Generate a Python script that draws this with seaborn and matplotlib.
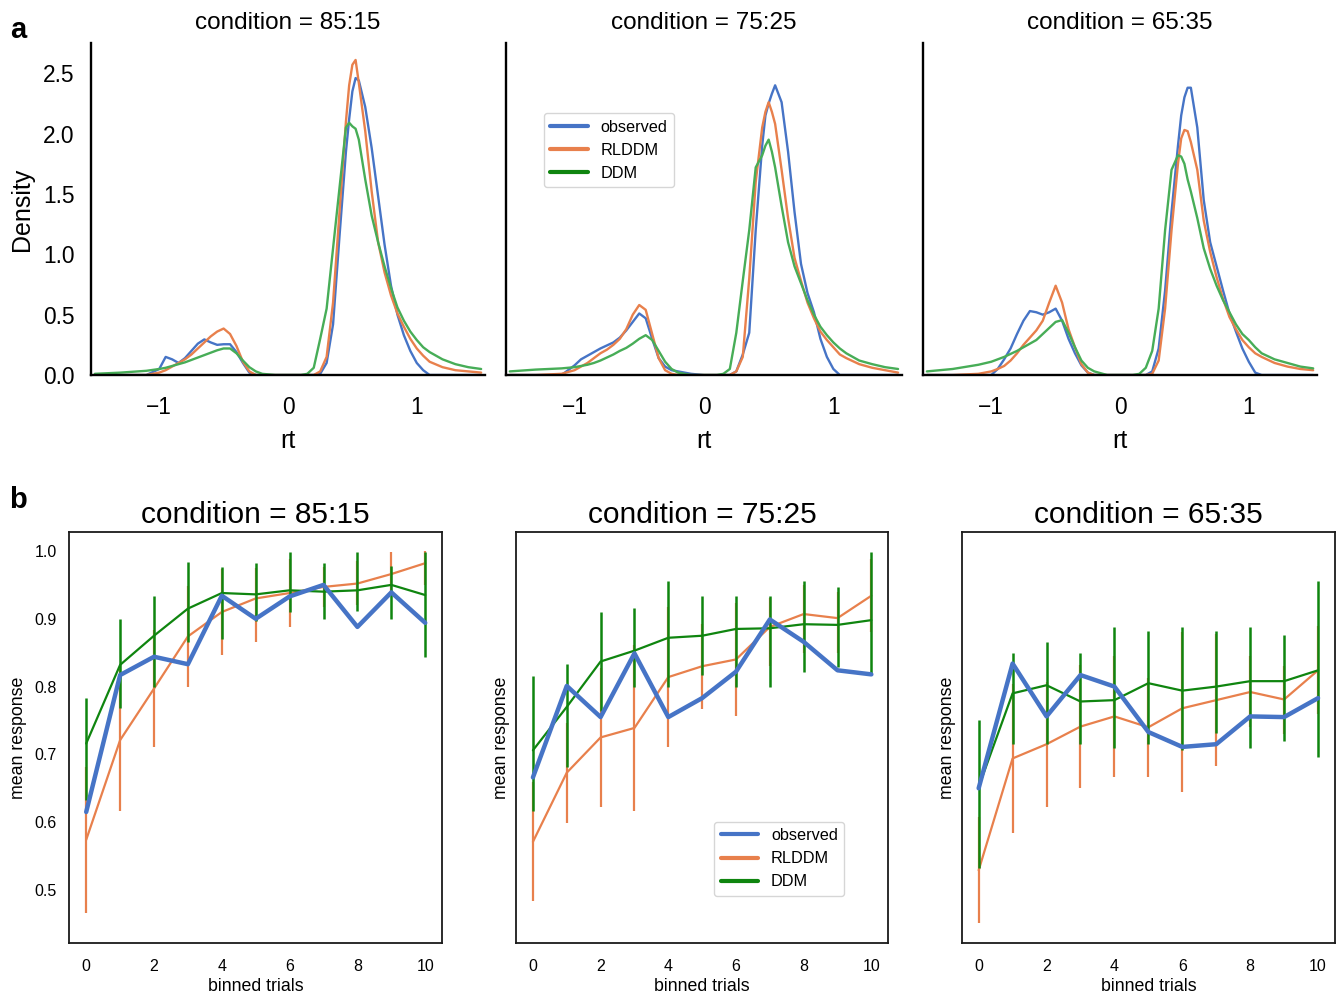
import numpy as np
import pandas as pd
import seaborn as sns
import matplotlib.pyplot as plt
from matplotlib.lines import Line2D

conditions = ["85:15", "75:25", "65:35"]
models = ["observed", "RLDDM", "DDM"]

# rt densities (negative rt = lower-bound responses)
rt_grid = [-1.5, -1.3, -1.1, -1.0, -0.95, -0.9, -0.85, -0.8, -0.75, -0.7, -0.65, -0.6,
           -0.55, -0.5, -0.45, -0.4, -0.35, -0.3, -0.25, -0.2, -0.1, 0.0, 0.1, 0.15,
           0.2, 0.25, 0.3, 0.35, 0.4, 0.45, 0.475, 0.5, 0.525, 0.55, 0.6, 0.65, 0.7,
           0.75, 0.8, 0.85, 0.9, 0.95, 1.0, 1.05, 1.1, 1.2, 1.3, 1.4, 1.5]

obs_8515 = [0, 0, 0, 0.05, 0.15, 0.13, 0.10, 0.14, 0.20, 0.26, 0.295, 0.27,
            0.25, 0.255, 0.255, 0.19, 0.10, 0.02, 0, 0, 0, 0, 0, 0,
            0, 0.01, 0.10, 0.42, 1.15, 1.85, 2.12, 2.35, 2.46, 2.44, 2.22, 1.88, 1.48,
            1.08, 0.74, 0.50, 0.33, 0.20, 0.10, 0.04, 0, 0, 0, 0, 0]
rl_8515 = [0, 0, 0, 0.02, 0.04, 0.07, 0.10, 0.13, 0.17, 0.22, 0.27, 0.32,
           0.36, 0.385, 0.34, 0.24, 0.11, 0.03, 0, 0, 0, 0, 0, 0,
           0, 0.03, 0.15, 0.60, 1.35, 2.10, 2.40, 2.57, 2.61, 2.42, 2.02, 1.52, 1.10,
           0.85, 0.66, 0.51, 0.40, 0.30, 0.22, 0.16, 0.11, 0.065, 0.04, 0.03, 0.02]
ddm_8515 = [0.01, 0.02, 0.035, 0.05, 0.06, 0.075, 0.09, 0.105, 0.125, 0.145, 0.165, 0.185,
            0.205, 0.22, 0.22, 0.18, 0.12, 0.065, 0.03, 0.01, 0, 0, 0, 0.01,
            0.06, 0.30, 0.55, 1.05, 1.55, 2.05, 2.09, 2.06, 2.04, 1.95, 1.62, 1.32, 1.10,
            0.90, 0.72, 0.56, 0.45, 0.36, 0.29, 0.23, 0.19, 0.13, 0.09, 0.065, 0.05]

obs_7525 = [0, 0, 0, 0.08, 0.13, 0.16, 0.19, 0.22, 0.245, 0.27, 0.31, 0.37,
            0.44, 0.51, 0.47, 0.30, 0.14, 0.07, 0.04, 0.03, 0.01, 0, 0, 0,
            0, 0.03, 0.17, 0.35, 1.20, 1.90, 2.15, 2.25, 2.33, 2.40, 2.26, 1.85, 1.35,
            0.92, 0.68, 0.52, 0.30, 0.15, 0.05, 0, 0, 0, 0, 0, 0]
rl_7525 = [0, 0, 0.01, 0.04, 0.07, 0.10, 0.14, 0.18, 0.21, 0.25, 0.30, 0.38,
           0.50, 0.58, 0.54, 0.34, 0.14, 0.04, 0.01, 0, 0, 0, 0, 0,
           0, 0.03, 0.15, 0.80, 1.60, 2.05, 2.18, 2.26, 2.18, 2.08, 1.70, 1.30, 0.97,
           0.78, 0.60, 0.47, 0.36, 0.29, 0.23, 0.17, 0.14, 0.09, 0.06, 0.04, 0.02]
ddm_7525 = [0.03, 0.045, 0.055, 0.065, 0.075, 0.085, 0.10, 0.12, 0.145, 0.17, 0.20, 0.225,
            0.26, 0.30, 0.33, 0.29, 0.20, 0.11, 0.05, 0.02, 0, 0, 0, 0.01,
            0.05, 0.35, 0.78, 1.20, 1.72, 1.82, 1.90, 1.95, 1.85, 1.72, 1.40, 1.10, 0.90,
            0.76, 0.62, 0.50, 0.40, 0.33, 0.27, 0.22, 0.18, 0.12, 0.09, 0.065, 0.05]

obs_6535 = [0, 0, 0, 0, 0.05, 0.13, 0.22, 0.34, 0.45, 0.53, 0.52, 0.50,
            0.52, 0.55, 0.45, 0.30, 0.18, 0.08, 0.02, 0, 0, 0, 0, 0,
            0, 0.03, 0.22, 0.70, 1.35, 1.90, 2.15, 2.30, 2.38, 2.38, 2.05, 1.45, 1.10,
            0.90, 0.70, 0.51, 0.36, 0.22, 0.11, 0.02, 0, 0, 0, 0, 0]
rl_6535 = [0, 0, 0.01, 0.03, 0.05, 0.075, 0.12, 0.18, 0.25, 0.31, 0.37, 0.45,
           0.60, 0.74, 0.60, 0.38, 0.23, 0.09, 0.02, 0, 0, 0, 0, 0,
           0, 0.01, 0.12, 0.55, 1.20, 1.75, 1.96, 2.03, 2.02, 1.93, 1.70, 1.28, 1.02,
           0.81, 0.63, 0.48, 0.38, 0.29, 0.23, 0.18, 0.15, 0.10, 0.07, 0.05, 0.04]
ddm_6535 = [0.03, 0.05, 0.085, 0.11, 0.13, 0.15, 0.175, 0.20, 0.23, 0.26, 0.29, 0.34,
            0.39, 0.44, 0.455, 0.35, 0.23, 0.12, 0.06, 0.03, 0, 0, 0, 0.01,
            0.06, 0.20, 0.55, 1.20, 1.70, 1.82, 1.81, 1.75, 1.62, 1.52, 1.30, 1.05, 0.88,
            0.74, 0.62, 0.52, 0.42, 0.34, 0.29, 0.23, 0.18, 0.13, 0.10, 0.07, 0.055]

# mean response per binned trial, bottom row
trials = list(range(11))

obs_resp_8515 = [0.615, 0.817, 0.844, 0.833, 0.934, 0.900, 0.933, 0.950, 0.888, 0.939, 0.894]
rl_resp_8515 = [0.574, 0.721, 0.797, 0.874, 0.910, 0.930, 0.938, 0.947, 0.952, 0.966, 0.982]
rl_lo_8515 = [0.466, 0.616, 0.711, 0.800, 0.847, 0.866, 0.888, 0.917, 0.920, 0.933, 0.950]
rl_hi_8515 = [0.682, 0.826, 0.883, 0.948, 0.973, 0.975, 0.988, 0.977, 0.985, 0.999, 1.000]
ddm_resp_8515 = [0.716, 0.832, 0.875, 0.915, 0.938, 0.936, 0.942, 0.940, 0.942, 0.950, 0.935]
ddm_lo_8515 = [0.633, 0.768, 0.800, 0.866, 0.870, 0.896, 0.910, 0.900, 0.911, 0.899, 0.843]
ddm_hi_8515 = [0.783, 0.900, 0.933, 0.984, 0.976, 0.983, 0.999, 0.983, 0.999, 0.978, 0.999]

obs_resp_7525 = [0.666, 0.801, 0.755, 0.849, 0.755, 0.783, 0.822, 0.899, 0.866, 0.824, 0.818]
rl_resp_7525 = [0.571, 0.673, 0.725, 0.739, 0.814, 0.830, 0.840, 0.888, 0.907, 0.901, 0.934]
rl_lo_7525 = [0.483, 0.599, 0.622, 0.617, 0.711, 0.767, 0.756, 0.830, 0.850, 0.850, 0.880]
rl_hi_7525 = [0.659, 0.747, 0.828, 0.861, 0.917, 0.893, 0.924, 0.930, 0.950, 0.940, 0.988]
ddm_resp_7525 = [0.706, 0.770, 0.837, 0.853, 0.872, 0.875, 0.885, 0.886, 0.892, 0.891, 0.898]
ddm_lo_7525 = [0.616, 0.682, 0.764, 0.800, 0.800, 0.817, 0.800, 0.800, 0.822, 0.829, 0.818]
ddm_hi_7525 = [0.816, 0.833, 0.910, 0.916, 0.955, 0.933, 0.933, 0.933, 0.956, 0.947, 0.999]

obs_resp_6535 = [0.650, 0.834, 0.756, 0.817, 0.800, 0.733, 0.711, 0.715, 0.756, 0.755, 0.783]
rl_resp_6535 = [0.529, 0.694, 0.715, 0.741, 0.756, 0.740, 0.768, 0.780, 0.792, 0.781, 0.824]
rl_lo_6535 = [0.451, 0.584, 0.623, 0.650, 0.667, 0.667, 0.645, 0.683, 0.740, 0.730, 0.760]
rl_hi_6535 = [0.607, 0.804, 0.807, 0.832, 0.845, 0.813, 0.880, 0.877, 0.845, 0.830, 0.890]
ddm_resp_6535 = [0.652, 0.790, 0.802, 0.778, 0.780, 0.805, 0.794, 0.800, 0.808, 0.808, 0.824]
ddm_lo_6535 = [0.532, 0.715, 0.715, 0.715, 0.710, 0.715, 0.706, 0.732, 0.710, 0.719, 0.696]
ddm_hi_6535 = [0.750, 0.849, 0.866, 0.849, 0.888, 0.882, 0.888, 0.882, 0.888, 0.876, 0.956]

kde_sets = {"85:15": (obs_8515, rl_8515, ddm_8515),
            "75:25": (obs_7525, rl_7525, ddm_7525),
            "65:35": (obs_6535, rl_6535, ddm_6535)}
resp_sets = {"85:15": (obs_resp_8515, rl_resp_8515, rl_lo_8515, rl_hi_8515,
                       ddm_resp_8515, ddm_lo_8515, ddm_hi_8515),
             "75:25": (obs_resp_7525, rl_resp_7525, rl_lo_7525, rl_hi_7525,
                       ddm_resp_7525, ddm_lo_7525, ddm_hi_7525),
             "65:35": (obs_resp_6535, rl_resp_6535, rl_lo_6535, rl_hi_6535,
                       ddm_resp_6535, ddm_lo_6535, ddm_hi_6535)}

sns.set_style("white")
plt.rcParams["font.family"] = ["Liberation Sans", "DejaVu Sans"]
plt.rcParams["text.color"] = "black"
plt.rcParams["axes.labelcolor"] = "black"
plt.rcParams["xtick.color"] = "black"
plt.rcParams["ytick.color"] = "black"

blue = "#4674c6"
orange = "#e8804c"
green_kde = "#47ad57"
green = "#0f850f"

fig = plt.figure(figsize=(13.42, 9.99), dpi=100)

top_pos = [(0.0678, 0.6246, 0.2936, 0.3323),
           (0.3770, 0.6246, 0.2951, 0.3323),
           (0.6878, 0.6246, 0.2936, 0.3323)]
bot_pos = [(0.0516, 0.0558, 0.2779, 0.4120),
           (0.3845, 0.0558, 0.2774, 0.4120),
           (0.7166, 0.0558, 0.2782, 0.4120)]

# a: rt distributions
for i, cond in enumerate(conditions):
    ax = fig.add_axes(top_pos[i])
    obs, rl, ddm = kde_sets[cond]
    df = pd.DataFrame({"rt": rt_grid * 3,
                       "density": obs + rl + ddm,
                       "model": ["observed"] * len(rt_grid) + ["RLDDM"] * len(rt_grid) + ["DDM"] * len(rt_grid)})
    sns.lineplot(data=df, x="rt", y="density", hue="model", hue_order=models,
                 palette={"observed": blue, "RLDDM": orange, "DDM": green_kde},
                 linewidth=1.7, legend=False, ax=ax)
    ax.set_xlim(-1.53, 1.53)
    ax.set_ylim(0, 2.75)
    ax.set_xticks([-1, 0, 1])
    ax.set_yticks([0, 0.5, 1.0, 1.5, 2.0, 2.5])
    ax.tick_params(axis="x", length=0, pad=15, labelsize=16.4)
    ax.tick_params(axis="y", length=0, pad=12, labelsize=16.4)
    ax.set_xlabel("rt", fontsize=18, labelpad=7)
    if i == 0:
        ax.set_ylabel("Density", fontsize=18, labelpad=6)
    else:
        ax.set_ylabel("")
        ax.tick_params(labelleft=False)
    ax.set_title(f"condition = {cond}", fontsize=17.5, pad=10)
    sns.despine(ax=ax)
    for s in ["left", "bottom"]:
        ax.spines[s].set_color("black")
        ax.spines[s].set_linewidth(1.7)
    if i == 1:
        handles = [Line2D([], [], color=blue, lw=3),
                   Line2D([], [], color=orange, lw=3),
                   Line2D([], [], color=green, lw=3)]
        ax.legend(handles, models, loc="upper left", bbox_to_anchor=(0.096, 0.789),
                  borderaxespad=0, fontsize=11.7, handlelength=2.3, frameon=True)

# b: mean response over binned trials
for i, cond in enumerate(conditions):
    ax = fig.add_axes(bot_pos[i])
    obs, rl, rl_lo, rl_hi, ddm, ddm_lo, ddm_hi = resp_sets[cond]
    ax.vlines(trials, rl_lo, rl_hi, color=orange, lw=1.6, zorder=2)
    sns.lineplot(x=trials, y=rl, color=orange, lw=1.6, ax=ax, zorder=2, label="RLDDM")
    ax.vlines(trials, ddm_lo, ddm_hi, color=green, lw=1.8, zorder=3)
    sns.lineplot(x=trials, y=ddm, color=green, lw=1.6, ax=ax, zorder=3, label="DDM")
    sns.lineplot(x=trials, y=obs, color=blue, lw=3.2, ax=ax, zorder=4, label="observed")
    ax.set_xlim(-0.5, 10.5)
    ax.set_ylim(0.4214, 1.0285)
    ax.set_xticks([0, 2, 4, 6, 8, 10])
    ax.set_yticks([0.5, 0.6, 0.7, 0.8, 0.9, 1.0])
    ax.tick_params(axis="x", length=0, pad=11, labelsize=11.5)
    ax.tick_params(axis="y", length=0, pad=9, labelsize=11.5)
    ax.set_xlabel("binned trials", fontsize=12.8, labelpad=3)
    if i == 0:
        ax.set_ylabel("mean response", fontsize=12.8, labelpad=5)
    else:
        ax.tick_params(labelleft=False)
        ax.set_ylabel("mean response", fontsize=12.8, labelpad=4)
    ax.set_title(f"condition = {cond}", fontsize=21.5, pad=6)
    for s in ax.spines.values():
        s.set_color("#1a1a1a")
        s.set_linewidth(1.3)
    if i == 1:
        handles = [Line2D([], [], color=blue, lw=3),
                   Line2D([], [], color=orange, lw=3),
                   Line2D([], [], color=green, lw=3)]
        ax.legend(handles, models, loc="lower left", bbox_to_anchor=(0.532, 0.115),
                  borderaxespad=0, fontsize=11.7, handlelength=2.3, frameon=True)
    else:
        ax.get_legend().remove()

fig.text(0.0134, 0.970, "a", fontsize=21, fontweight="bold", ha="center", va="center")
fig.text(0.0134, 0.499, "b", fontsize=21, fontweight="bold", ha="center", va="center")

fig.savefig("out.png", dpi=100)
